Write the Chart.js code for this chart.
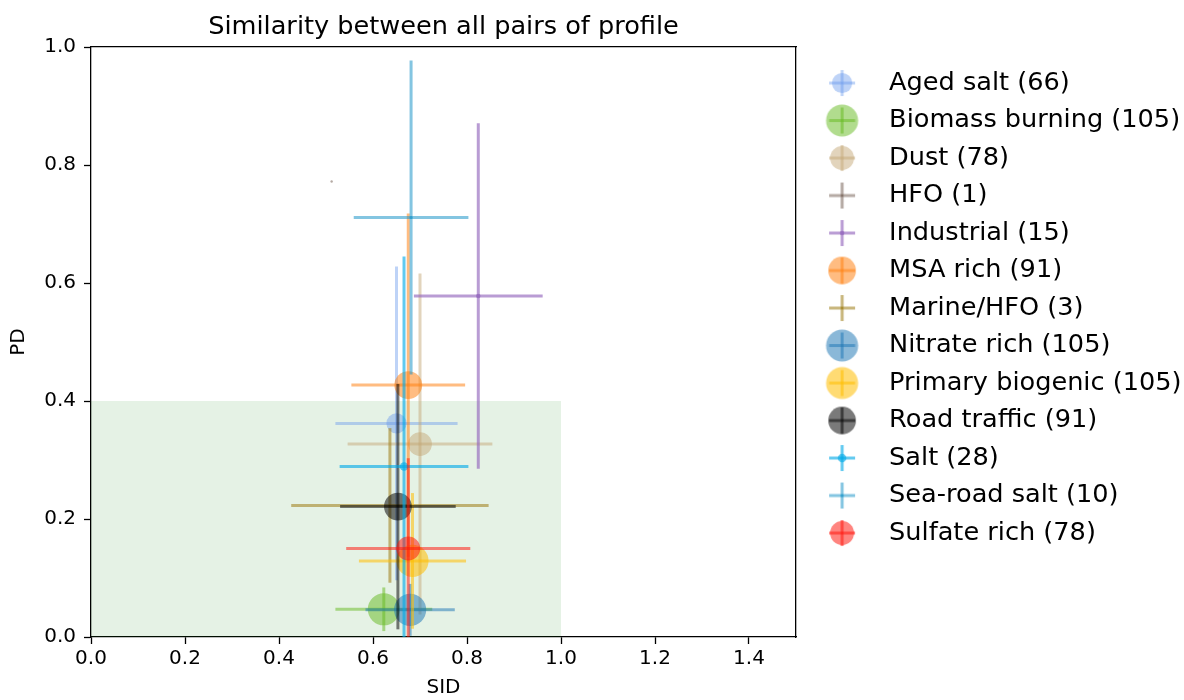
<!DOCTYPE html>
<html>
<head>
<meta charset="utf-8">
<script src="https://cdn.jsdelivr.net/npm/chart.js@4.4.1/dist/chart.umd.min.js"></script>
<style>
  html, body { margin: 0; padding: 0; background: #ffffff; }
  #wrap { width: 1184px; height: 700px; }
</style>
</head>
<body>
<div id="wrap"><canvas id="c" width="1184" height="700"></canvas></div>
<script>
// ---- data ----
const categories = ['Aged salt', 'Biomass burning', 'Dust', 'HFO', 'Industrial', 'MSA rich',
  'Marine/HFO', 'Nitrate rich', 'Primary biogenic', 'Road traffic', 'Salt', 'Sea-road salt', 'Sulfate rich'];
const counts  = [66, 105, 78, 1, 15, 91, 3, 105, 105, 91, 28, 10, 78];
const sidMean = [0.650, 0.623, 0.700, 0.512, 0.824, 0.675, 0.636, 0.679, 0.684, 0.653, 0.666, 0.681, 0.675];
const sidStd  = [0.130, 0.103, 0.154, 0.000, 0.137, 0.121, 0.210, 0.095, 0.114, 0.123, 0.137, 0.122, 0.132];
const pdMean  = [0.362, 0.047, 0.327, 0.772, 0.578, 0.427, 0.223, 0.046, 0.129, 0.221, 0.289, 0.711, 0.150];
const pdStd   = [0.266, 0.037, 0.289, 0.000, 0.293, 0.291, 0.131, 0.044, 0.115, 0.208, 0.356, 0.266, 0.153];
const shadeSid = [0, 1];
const shadePd = 0.4;
const xTicks = [0, 0.2, 0.4, 0.6, 0.8, 1.0, 1.2, 1.4];
const yTicks = [0, 0.2, 0.4, 0.6, 0.8, 1.0];

// ---- styles ----
const colors = [
  'rgba(100,149,237,0.42)', 'rgba(100,185,30,0.5)', 'rgba(195,165,115,0.48)', 'rgba(120,100,90,0.55)',
  'rgba(148,103,189,0.65)', 'rgba(255,127,14,0.52)', 'rgba(160,130,30,0.58)', 'rgba(31,119,180,0.52)',
  'rgba(255,190,0,0.55)', 'rgba(0,0,0,0.52)', 'rgba(0,170,230,0.62)', 'rgba(30,150,200,0.55)', 'rgba(255,20,10,0.52)'
];
const FONT = 'DejaVu Sans';
Chart.defaults.font.family = FONT;
Chart.defaults.color = '#000';
const markerRadius = n => Math.max(n * 0.153, 1.2);

// legend icons: circle + error-bar cross
function makeIcon(color, r) {
  const half = 13;
  const size = Math.ceil(Math.max(2 * r, 2 * half) + 4);
  const cv = document.createElement('canvas');
  cv.width = size; cv.height = size;
  const g = cv.getContext('2d');
  const c = size / 2;
  g.strokeStyle = color; g.lineWidth = 3;
  g.beginPath(); g.moveTo(c - half, c); g.lineTo(c + half, c); g.stroke();
  g.beginPath(); g.moveTo(c, c - half); g.lineTo(c, c + half); g.stroke();
  g.fillStyle = color;
  g.beginPath(); g.arc(c, c, r, 0, Math.PI * 2); g.fill();
  return cv;
}
const icons = categories.map((c, i) => makeIcon(colors[i], markerRadius(counts[i])));

const datasets = [];
datasets.push({
  label: 'region',
  data: [{x: shadeSid[0], y: shadePd}, {x: shadeSid[1], y: shadePd}],
  showLine: true, fill: 'origin', backgroundColor: 'rgba(0,128,0,0.1)',
  borderWidth: 0, borderColor: 'rgba(0,0,0,0)', pointRadius: 0, order: 1000
});
const pointIndex = [];
categories.forEach((cat, i) => {
  datasets.push({
    label: cat + ' SID err',
    data: [{x: sidMean[i] - sidStd[i], y: pdMean[i]}, {x: sidMean[i] + sidStd[i], y: pdMean[i]}],
    showLine: true, borderColor: colors[i], borderWidth: 3, pointRadius: 0, fill: false,
    clip: 0, order: -(3 * i)
  });
  datasets.push({
    label: cat + ' PD err',
    data: [{x: sidMean[i], y: pdMean[i] - pdStd[i]}, {x: sidMean[i], y: pdMean[i] + pdStd[i]}],
    showLine: true, borderColor: colors[i], borderWidth: 3, pointRadius: 0, fill: false,
    clip: 0, order: -(3 * i + 1)
  });
  pointIndex.push(datasets.length);
  datasets.push({
    label: cat,
    data: [{x: sidMean[i], y: pdMean[i]}],
    pointRadius: markerRadius(counts[i]), pointHoverRadius: markerRadius(counts[i]),
    backgroundColor: colors[i], borderWidth: 0, pointBorderWidth: 0,
    clip: 0, order: -(3 * i + 2)
  });
});

const fmt = v => Number(v).toFixed(1);

new Chart(document.getElementById('c'), {
  type: 'scatter',
  data: { datasets },
  options: {
    responsive: false,
    devicePixelRatio: 1,
    animation: false,
    events: [],
    layout: { padding: { left: 0, right: 0, top: 0, bottom: 0 } },
    elements: { line: { tension: 0 } },
    scales: {
      x: {
        type: 'linear', position: 'bottom', min: 0, max: 1.5, bounds: 'data',
        afterBuildTicks: s => { s.ticks = xTicks.map(v => ({value: v})); },
        ticks: { font: { size: 20 }, color: '#000', padding: 3, callback: fmt, maxRotation: 0 },
        grid: { drawOnChartArea: false, drawTicks: true, tickLength: 7, tickWidth: 1.3, tickColor: '#000', color: '#000' },
        border: { display: true, color: '#000', width: 1.3 },
        title: { display: true, text: 'SID', font: { size: 20 }, color: '#000', padding: { top: 0, bottom: 0 } },
        afterFit: s => { s.height = 63; }
      },
      y: {
        type: 'linear', position: 'left', min: 0, max: 1, bounds: 'data',
        afterBuildTicks: s => { s.ticks = yTicks.map(v => ({value: v})); },
        ticks: { font: { size: 20 }, color: '#000', padding: 8, callback: fmt },
        grid: { drawOnChartArea: false, drawTicks: true, tickLength: 7, tickWidth: 1.3, tickColor: '#000', color: '#000' },
        border: { display: true, color: '#000', width: 1.3 },
        title: { display: true, text: 'PD', font: { size: 20 }, color: '#000', padding: { top: 7, bottom: 0 } },
        afterFit: s => { s.width = 91; }
      },
      x2: {
        type: 'linear', position: 'top', min: 0, max: 1.5,
        ticks: { display: false },
        grid: { drawOnChartArea: false, drawTicks: false },
        border: { display: true, color: '#000', width: 1.3 },
        afterFit: s => { s.height = 0; }
      },
      yR: {
        type: 'linear', position: 'right', min: 0, max: 1,
        ticks: { display: false },
        grid: { drawOnChartArea: false, drawTicks: false },
        border: { display: true, color: '#000', width: 1.3 },
        afterFit: s => { s.width = 0; }
      }
    },
    plugins: {
      tooltip: { enabled: false },
      title: {
        display: true, text: 'Similarity between all pairs of profile', fullSize: false,
        font: { size: 25.6, weight: 'normal' }, color: '#000', padding: { top: 11.6, bottom: 4.7 }
      },
      legend: {
        display: true, position: 'right', align: 'start', fullSize: false, maxWidth: 388,
        title: { display: true, text: '', font: { size: 5 }, padding: { top: 5.3, bottom: 0 } },
        labels: {
          usePointStyle: true, pointStyleWidth: 68.4, padding: 11.9,
          font: { size: 25.6 }, color: '#000',
          generateLabels: () => categories.map((cat, i) => ({
            text: cat + ' (' + counts[i] + ')',
            pointStyle: icons[i],
            datasetIndex: pointIndex[i],
            fillStyle: colors[i], strokeStyle: 'rgba(0,0,0,0)', lineWidth: 0,
            hidden: false, fontColor: '#000'
          }))
        }
      }
    }
  }
});
</script>
</body>
</html>
